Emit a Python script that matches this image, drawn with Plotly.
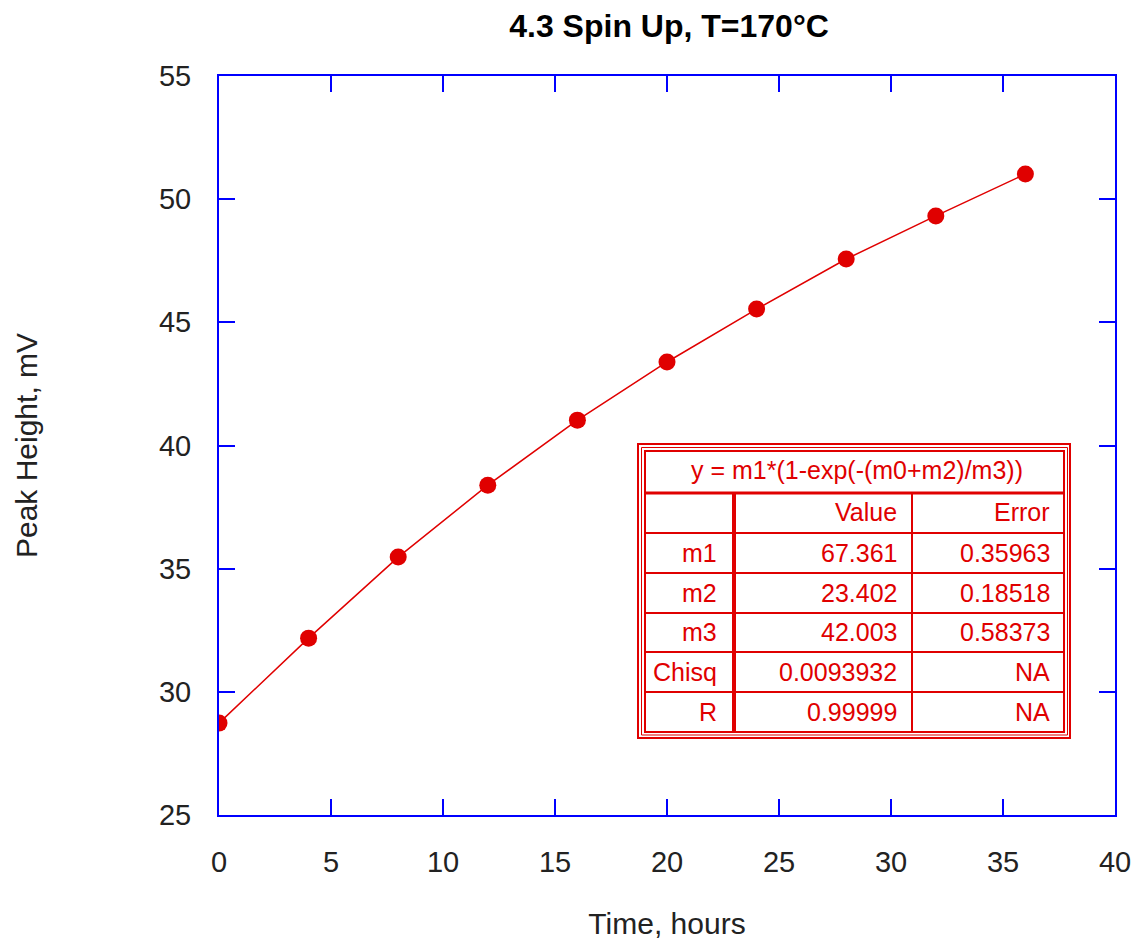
import plotly.graph_objects as go

# ---- data ----
time_hours = [0, 4, 8, 12, 16, 20, 24, 28, 32, 36]
peak_height = [28.73, 32.18, 35.47, 38.39, 41.03, 43.39, 45.54, 47.57, 49.32, 51.02]

x_ticks = [0, 5, 10, 15, 20, 25, 30, 35, 40]
y_ticks = [25, 30, 35, 40, 45, 50, 55]

fit_equation = "y = m1*(1-exp(-(m0+m2)/m3))"
table_header = ["", "Value", "Error"]
param_names = ["m1", "m2", "m3", "Chisq", "R"]
param_values = ["67.361", "23.402", "42.003", "0.0093932", "0.99999"]
param_errors = ["0.35963", "0.18518", "0.58373", "NA", "NA"]

# ---- layout geometry (page pixels; the page body adds an 8px offset) ----
OFF = 8
W, H = 1147, 945
PL, PT, PR, PB = 219, 76, 1115, 815          # plot area edges on the page
L = PL - OFF
T = PT - OFF
R = W + OFF - PR
B = H + OFF - PB
PW, PH = PR - PL, PB - PT
RED = "#e00000"
BLUE = "#0000ff"
FONT = "Liberation Sans, Arial, sans-serif"
TXT = "#222222"


def px(xp):
    return (xp - PL) / PW


def py(yp):
    return (PB - yp) / PH


fig = go.Figure()
fig.add_trace(go.Scatter(
    x=time_hours, y=peak_height, mode="lines+markers",
    line=dict(color=RED, width=1.5),
    marker=dict(symbol="circle", size=17, color=RED),
    showlegend=False, hoverinfo="x+y",
))

shapes = []


def rect(x0, y0, x1, y1, w):
    shapes.append(dict(type="rect", xref="paper", yref="paper",
                       x0=px(x0), x1=px(x1), y0=py(y0), y1=py(y1),
                       line=dict(color=RED, width=w), layer="above"))


def hline(x0, x1, y, w):
    shapes.append(dict(type="line", xref="paper", yref="paper",
                       x0=px(x0), x1=px(x1), y0=py(y), y1=py(y),
                       line=dict(color=RED, width=w), layer="above"))


def vline(x, y0, y1, w):
    shapes.append(dict(type="line", xref="paper", yref="paper",
                       x0=px(x), x1=px(x), y0=py(y0), y1=py(y1),
                       line=dict(color=RED, width=w), layer="above"))


# table background + borders
shapes.append(dict(type="rect", xref="paper", yref="paper",
                   x0=px(637), x1=px(1071), y0=py(443), y1=py(739),
                   fillcolor="white", line=dict(width=0), layer="above"))
rect(638, 444, 1070, 738, 2)
rect(641.5, 447.5, 1067.5, 735, 1)
rect(645, 451, 1064, 732, 2)

row_lines = [493, 533, 573, 613, 652, 692]
for i, yl in enumerate(row_lines):
    hline(645, 1064, yl, 3 if i == 0 else 2)
vline(734, 493, 732, 4)
vline(912, 493, 732, 2)

annotations = []
annotations.append(dict(xref="paper", yref="paper", x=px(857), y=py(470),
                        text=fit_equation, showarrow=False,
                        xanchor="center", yanchor="middle",
                        font=dict(family=FONT, size=25, color=RED)))

row_centers = [512, 553, 593, 632, 672, 712]
col_right = [719, 899, 1052]
rows = [table_header] + [[n, v, e] for n, v, e in zip(param_names, param_values, param_errors)]
for rc, row in zip(row_centers, rows):
    for xr, txt in zip(col_right, row):
        if txt:
            annotations.append(dict(xref="paper", yref="paper", x=px(xr), y=py(rc),
                                    text=txt, showarrow=False,
                                    xanchor="right", yanchor="middle",
                                    font=dict(family=FONT, size=25, color=RED)))

fig.update_layout(
    width=W, height=H, autosize=False,
    margin=dict(l=L, r=R, t=T, b=B),
    paper_bgcolor="white", plot_bgcolor="white",
    title=dict(text="<b>4.3 Spin Up, T=170°C</b>", x=(669 - OFF) / W, xanchor="center",
               y=1 - (26 - OFF) / H, yanchor="middle",
               font=dict(family=FONT, size=32, color="black")),
    font=dict(family=FONT, size=29, color=TXT),
    shapes=shapes, annotations=annotations,
)

fig.update_xaxes(
    range=[0, 40], tickvals=x_ticks, ticks="inside", ticklen=16, tickwidth=2,
    tickcolor=BLUE, showline=True, linecolor=BLUE, linewidth=2, mirror="ticks",
    showgrid=False, zeroline=False, ticklabelstandoff=20,
    tickfont=dict(family=FONT, size=29, color=TXT),
    title=dict(text="Time, hours", standoff=36,
               font=dict(family=FONT, size=30, color=TXT)),
)
fig.update_yaxes(
    range=[25, 55], tickvals=y_ticks, ticks="inside", ticklen=16, tickwidth=2,
    tickcolor=BLUE, showline=True, linecolor=BLUE, linewidth=2, mirror="ticks",
    showgrid=False, zeroline=False, ticklabelstandoff=20,
    tickfont=dict(family=FONT, size=29, color=TXT),
    title=dict(text="Peak Height, mV", standoff=112,
               font=dict(family=FONT, size=30, color=TXT)),
)

fig.write_html("out.html")
